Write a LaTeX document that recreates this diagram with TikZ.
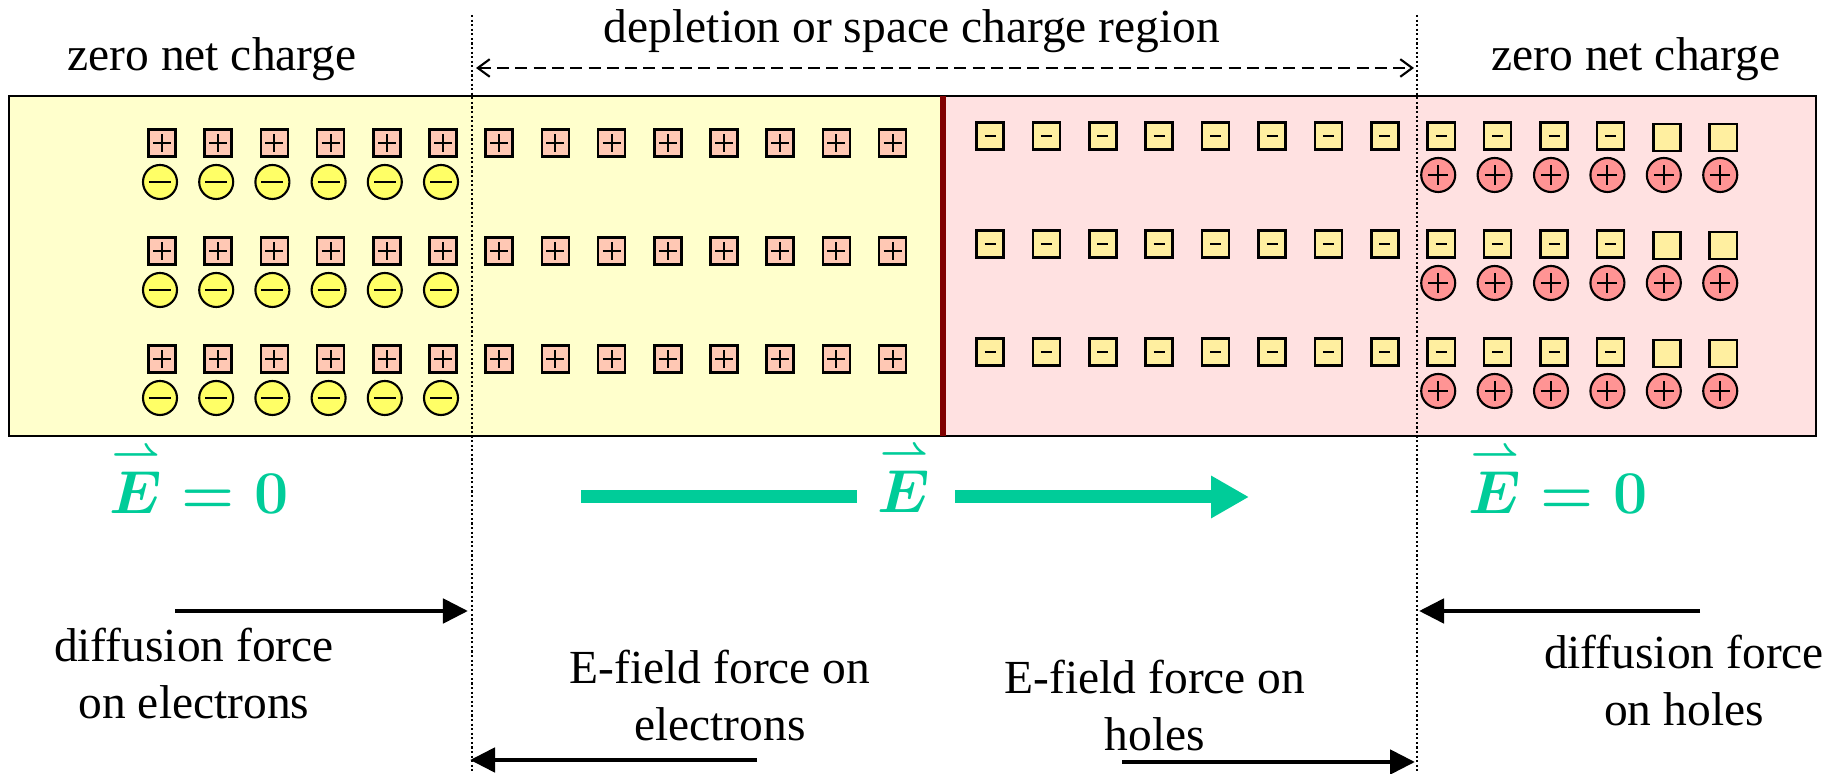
\documentclass[tikz,border=0pt]{standalone}
\usepackage{fontspec}
\usepackage{amsmath}
\setmainfont{Liberation Serif}
\usetikzlibrary{
positioning,
arrows.meta
}
\definecolor{nside}{HTML}{FFFFCC}
\definecolor{pside}{HTML}{FFE1E1}
\definecolor{junc}{HTML}{800000}
\definecolor{donorfill}{HTML}{FFC8B4}
\definecolor{accfill}{HTML}{FFEFA0}
\definecolor{elecfill}{HTML}{FFFF66}
\definecolor{holefill}{HTML}{FF9494}
\definecolor{efgreen}{RGB}{0,204,153}
\newcommand{\efvec}{\overset{\raisebox{-.55ex}{$\scriptstyle\rightharpoonup$}}{E}}
\tikzset{
lbl/.style={
align=center,
inner sep=0pt,
font=\fontsize{13.5}{16.2}\selectfont
},
efield/.style={
text=efgreen,
inner sep=0pt,
font=\boldmath\fontsize{17}{20}\selectfont
},
donor/.style={
draw,
line width=.7pt,
fill=donorfill,
minimum size=.27cm,
inner sep=0pt,
path picture={\draw[line width=.6pt]
(path picture bounding box.center) ++(-.09cm,0) -- ++(.18cm,0)
(path picture bounding box.center) ++(0,-.09cm) -- ++(0,.18cm);}
},
accbox/.style={
draw,
line width=.7pt,
fill=accfill,
minimum size=.27cm,
inner sep=0pt
},
acceptor/.style={
accbox,
path picture={\draw[line width=.7pt]
(path picture bounding box.center) ++(-.055cm,0) -- ++(.11cm,0);}
},
electron/.style={
circle,
draw,
line width=.6pt,
fill=elecfill,
minimum size=.34cm,
inner sep=0pt,
path picture={\draw[line width=.6pt]
(path picture bounding box.center) ++(-.11cm,0) -- ++(.22cm,0);}
},
hole/.style={
circle,
draw,
line width=.6pt,
fill=holefill,
minimum size=.34cm,
inner sep=0pt,
path picture={\draw[line width=.6pt]
(path picture bounding box.center) ++(-.1cm,0) -- ++(.2cm,0)
(path picture bounding box.center) ++(0,-.1cm) -- ++(0,.2cm);}
},
arrow/.style={
-{Triangle[length=.25cm, width=.24cm]},
line width=1.4pt
},
border/.style={
dash pattern=on .6pt off .7pt,
line width=.6pt
}
}
\begin{document}
\begin{tikzpicture}[x=0.01cm, y=-0.01cm]
\useasboundingbox (0,0) rectangle (1831,774);

% n and p sides
\fill[nside] (9,96) rectangle (943,436);
\fill[pside] (943,96) rectangle (1816,436);

% fixed ions and free carriers
\foreach \r/\y in {0/143,1/251,2/359} {
  \foreach \i in {0,...,13}
    \node[donor] (d\r\i) at ({162+56.2*\i},\y) {};
  \foreach \i in {0,...,5}
    \node[electron] (e\r\i) at ({160+56.2*\i},{\y+39}) {};
}
\foreach \r/\y in {0/136,1/244,2/352} {
  \foreach \i in {0,...,11}
    \node[acceptor] (a\r\i) at ({990+56.4*\i},\y) {};
  \foreach \i in {12,13}
    \node[accbox] (a\r\i) at ({990+56.4*\i},{\y+1.5}) {};
  \foreach \i in {8,...,13}
    \node[hole] (h\r\i) at ({987+56.4*\i},{\y+39}) {};
}

\draw[line width=.8pt] (9,96) rectangle (1816,436);
\draw[junc, line width=1.7pt] (943,96) -- (943,436);

% edges of the depletion region
\coordinate (lt) at (472,15);
\coordinate (lb) at (472,774);
\coordinate (rt) at (1417,15);
\coordinate (rb) at (1417,774);
\draw[border] (lt) -- (lb);
\draw[border] (rt) -- (rb);

\node[lbl, anchor=base] (zn) at (212,71) {zero net charge};
\node[lbl, anchor=base] (zp) at (1636,71) {zero net charge};
\node[lbl, anchor=base] (dep) at (912,43) {depletion or space charge region};

\coordinate (depl) at (476,68);
\coordinate (depr) at (1414,68);
\draw[{Straight Barb[length=3.4pt, width=5pt]}-{Straight Barb[length=3.4pt, width=5pt]},
  line width=.6pt, dash pattern=on 3.4pt off 1.8pt] (depl) -- (depr);

% field
\node[efield, anchor=base] (en) at (199,514) {$\efvec=0$};
\node[efield, anchor=base] (ep) at (1558,514) {$\efvec=0$};
\node[efield, anchor=base] (emid) at (904,513) {$\efvec$};
\coordinate (efa) at (581,497);
\coordinate (efb) at (857,497);
\coordinate (efc) at (955,497);
\coordinate (efd) at (1249,497);
\draw[efgreen, line width=.13cm] (efa) -- (efb);
\draw[efgreen, line width=.13cm, -{Triangle[length=.38cm, width=.40cm]}] (efc) -- (efd);

% forces
\coordinate (f1a) at (175,611);
\coordinate (f1b) at (468,611);
\coordinate (f2a) at (757,760);
\coordinate (f2b) at (470,760);
\coordinate (f3a) at (1122,762);
\coordinate (f3b) at (1415,762);
\coordinate (f4a) at (1700,611);
\coordinate (f4b) at (1419,611);
\draw[arrow] (f1a) -- (f1b);
\draw[arrow] (f2a) -- (f2b);
\draw[arrow] (f3a) -- (f3b);
\draw[arrow] (f4a) -- (f4b);

\node[lbl] (t1) at (194,674) {diffusion force\\on electrons};
\node[lbl] (t2) at (720,696) {E-field force on\\electrons};
\node[lbl] (t3) at (1155,706) {E-field force on\\holes};
\node[lbl] (t4) at (1684,681) {diffusion force\\on holes};

\end{tikzpicture}
\end{document}
